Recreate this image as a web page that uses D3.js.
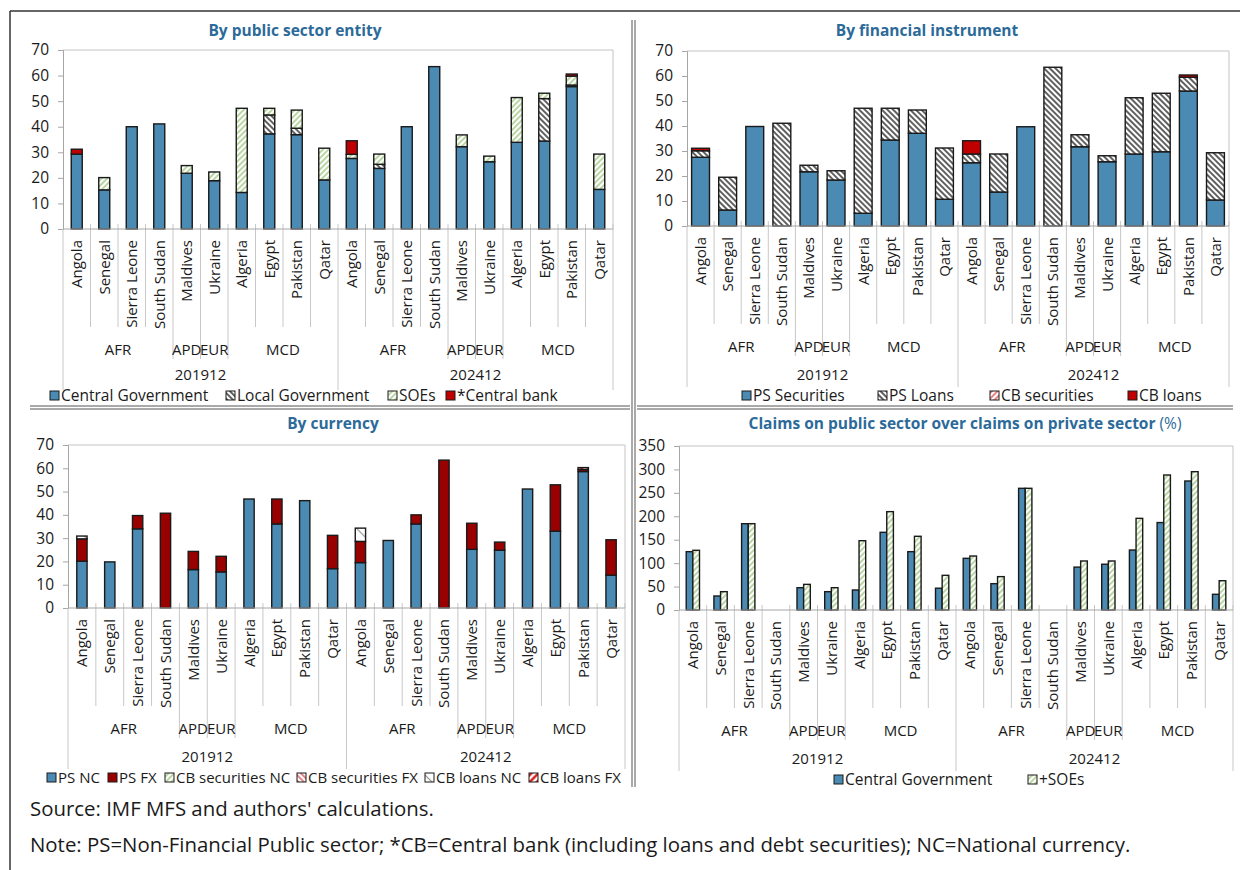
<!DOCTYPE html>
<html>
<head>
<meta charset="utf-8">
<script src="https://cdn.jsdelivr.net/npm/d3@7"></script>
<style>
  body { margin: 0; background: #fff; }
  svg text { font-family: "Open Sans", "Noto Sans", sans-serif; fill: #1a1a1a; }
</style>
</head>
<body>
<svg id="fig" width="1240" height="870"></svg>
<script>
// ---- categories ----
const countries = ["Angola", "Senegal", "Sierra Leone", "South Sudan", "Maldives",
                   "Ukraine", "Algeria", "Egypt", "Pakistan", "Qatar"];
const regions = [["AFR", 4], ["APD", 1], ["EUR", 1], ["MCD", 4]];
const periods = ["201912", "202412"];

// ---- by public sector entity (201912 then 202412) ----
const centralGov  = [29.3, 15.3, 40.0, 41.1, 21.8, 18.9, 14.3, 37.2, 36.9, 19.2,
                     27.6, 23.7, 40.0, 63.5, 32.2, 26.3, 33.9, 34.4, 55.7, 15.5];
const localGov    = [0, 0, 0, 0, 0, 0, 0, 7.4, 2.5, 0,
                     0, 1.6, 0, 0, 0, 0, 0, 16.6, 0.6, 0];
const soes        = [0, 4.8, 0, 0, 3.0, 3.4, 32.9, 2.6, 7.1, 12.4,
                     1.6, 4.0, 0, 0, 4.6, 2.2, 17.5, 2.1, 3.5, 13.8];
const centralBank = [1.9, 0, 0, 0, 0, 0, 0, 0, 0, 0,
                     5.3, 0, 0, 0, 0, 0, 0, 0, 0.8, 0];

// ---- by financial instrument ----
const psSecurities = [27.5, 6.4, 39.8, 0, 21.7, 18.4, 5.1, 34.4, 37.1, 10.7,
                      25.3, 13.6, 39.7, 0, 31.7, 25.7, 28.8, 29.7, 54.0, 10.4];
const psLoans      = [2.6, 13.1, 0, 41.1, 2.6, 3.7, 42.0, 12.7, 9.3, 20.5,
                      3.5, 15.2, 0, 63.5, 4.8, 2.4, 22.5, 23.4, 5.5, 18.9];
const cbSecurities = [0, 0, 0, 0, 0, 0, 0, 0, 0, 0,
                      0, 0, 0, 0, 0, 0, 0, 0, 0, 0];
const cbLoans      = [1.0, 0, 0, 0, 0, 0, 0, 0, 0, 0,
                      5.3, 0, 0, 0, 0, 0, 0, 0, 0.9, 0];

// ---- by currency ----
const psNC      = [20.1, 19.8, 34.0, 0, 16.5, 15.5, 46.8, 36.1, 46.1, 16.9,
                   19.5, 29.0, 36.1, 0, 25.2, 24.8, 51.1, 33.0, 58.6, 14.1];
const psFX      = [9.6, 0, 5.7, 40.7, 7.8, 6.7, 0, 10.7, 0, 14.3,
                   9.1, 0, 3.9, 63.5, 11.2, 3.5, 0, 19.9, 0.9, 15.2];
const cbSecNC   = [0, 0, 0, 0, 0, 0, 0, 0, 0, 0,
                   0, 0, 0, 0, 0, 0, 0, 0, 0, 0];
const cbSecFX   = [0, 0, 0, 0, 0, 0, 0, 0, 0, 0,
                   0, 0, 0, 0, 0, 0, 0, 0, 0, 0];
const cbLoansNC = [1.2, 0, 0, 0, 0, 0, 0, 0, 0, 0,
                   5.7, 0, 0, 0, 0, 0, 0, 0, 0, 0];
const cbLoansFX = [0, 0, 0, 0, 0, 0, 0, 0, 0, 0,
                   0, 0, 0, 0, 0, 0, 0, 0, 0.8, 0];

// ---- claims on public sector over claims on private sector (%) ----
const ratioCG   = [124.5, 29.9, 184.2, null, 47.6, 39.1, 42.7, 165.8, 124.5, 46.5,
                   110.3, 56.2, 259.7, null, 91.5, 97.7, 128.0, 186.6, 275.3, 33.5];
const ratioSOEs = [127.4, 39.1, 184.2, null, 54.7, 47.6, 147.9, 209.9, 157.3, 74.0,
                   115.2, 71.2, 259.7, null, 104.6, 104.6, 195.6, 288.1, 295.2, 62.5];

const sourceText = "Source: IMF MFS and authors' calculations.";
const noteText = "Note: PS=Non-Financial Public sector; *CB=Central bank (including loans and debt securities); NC=National currency.";

// ---- drawing ----
const svg = d3.select("#fig");
const defs = svg.append("defs");

function hatch(id, color, angle, spacing, width) {
  const p = defs.append("pattern").attr("id", id)
    .attr("patternUnits", "userSpaceOnUse")
    .attr("width", spacing).attr("height", spacing)
    .attr("patternTransform", `rotate(${angle})`);
  p.append("rect").attr("width", spacing).attr("height", spacing).attr("fill", "#fff");
  p.append("line").attr("x1", spacing / 2).attr("x2", spacing / 2)
    .attr("y1", 0).attr("y2", spacing)
    .attr("stroke", color).attr("stroke-width", width);
}
hatch("darkDiag", "#2a2a2a", -45, 4, 1.5);
hatch("greenDiag", "#9cc57c", 45, 4, 1.4);
hatch("redDiag", "#e06666", 45, 4, 1.6);
hatch("redDiagB", "#e06666", -45, 4, 1.6);
hatch("greyWide", "#9a9a9a", -45, 9, 1.2);
hatch("redWide", "#d00000", 45, 5, 2.2);

const blue = "#4a8ab3";
const red = "#c00000";
const darkRed = "#990000";
const titleColor = "#2c6a99";

const catKeys = [];
periods.forEach(p => countries.forEach(c => catKeys.push(p + "|" + c)));

const panels = [
  {
    title: [["By public sector entity", 700]], titleX: 295, titleY: 36,
    left: 63, right: 613, top: 50, zero: 229, max: 70, step: 10,
    mode: "stack", barFrac: 0.4, yearDy: 151,
    legendY: 401, legendFont: 15.5, legendX: [50, 226, 388, 446],
    series: [
      { name: "Central Government", values: centralGov, fill: blue },
      { name: "Local Government", values: localGov, fill: "url(#darkDiag)" },
      { name: "SOEs", values: soes, fill: "url(#greenDiag)" },
      { name: "*Central bank", values: centralBank, fill: red }
    ]
  },
  {
    title: [["By financial instrument", 700]], titleX: 927, titleY: 36,
    left: 687, right: 1229, top: 51, zero: 226, max: 70, step: 10,
    mode: "stack", barFrac: 0.66, yearDy: 154,
    legendY: 401, legendFont: 15.5, legendX: [742, 878, 990, 1128],
    series: [
      { name: "PS Securities", values: psSecurities, fill: blue },
      { name: "PS Loans", values: psLoans, fill: "url(#darkDiag)" },
      { name: "CB securities", values: cbSecurities, fill: "url(#redDiag)" },
      { name: "CB loans", values: cbLoans, fill: red }
    ]
  },
  {
    title: [["By currency", 700]], titleX: 333, titleY: 429,
    left: 68, right: 625, top: 445, zero: 608, max: 70, step: 10,
    mode: "stack", barFrac: 0.37, yearDy: 154,
    legendY: 783, legendFont: 15, legendX: [47, 108, 165, 297, 425, 529],
    series: [
      { name: "PS NC", values: psNC, fill: blue },
      { name: "PS FX", values: psFX, fill: darkRed },
      { name: "CB securities NC", values: cbSecNC, fill: "url(#greenDiag)" },
      { name: "CB securities FX", values: cbSecFX, fill: "url(#redDiagB)" },
      { name: "CB loans NC", values: cbLoansNC, fill: "url(#greyWide)" },
      { name: "CB loans FX", values: cbLoansFX, fill: "url(#redWide)" }
    ]
  },
  {
    title: [["Claims on public sector over claims on private sector", 700], [" (%)", 400]],
    titleX: 965, titleY: 429,
    left: 679, right: 1233, top: 446, zero: 610, max: 350, step: 50,
    mode: "group", barFrac: 0.24, yearDy: 154,
    legendY: 785, legendFont: 15.5, legendX: [834, 1028],
    series: [
      { name: "Central Government", values: ratioCG, fill: blue },
      { name: "+SOEs", values: ratioSOEs, fill: "url(#greenDiag)" }
    ]
  }
];

function drawPanel(cfg) {
  const g = svg.append("g");
  const x = d3.scaleBand().domain(catKeys).range([cfg.left, cfg.right]).padding(0);
  const y = d3.scaleLinear().domain([0, cfg.max]).range([cfg.zero, cfg.top]);
  const bw = x.bandwidth();

  // title
  const t = g.append("text").attr("x", cfg.titleX).attr("y", cfg.titleY)
    .attr("text-anchor", "middle").style("font-size", "15.5px");
  cfg.title.forEach(([s, w]) => t.append("tspan").text(s)
    .style("font-weight", w).style("fill", titleColor));

  // frame (top & right), value axis
  g.append("line").attr("x1", cfg.left).attr("x2", cfg.right)
    .attr("y1", cfg.top).attr("y2", cfg.top).attr("stroke", "#c4c4c4");
  g.append("line").attr("x1", cfg.right).attr("x2", cfg.right)
    .attr("y1", cfg.top).attr("y2", cfg.zero).attr("stroke", "#c4c4c4");

  const yAxis = d3.axisLeft(y).tickValues(d3.range(0, cfg.max + 1, cfg.step))
    .tickSize(5).tickPadding(9).tickFormat(d3.format("d"));
  const ya = g.append("g").attr("transform", `translate(${cfg.left},0)`).call(yAxis);
  ya.select(".domain").attr("stroke", "#a6a6a6");
  ya.selectAll(".tick line").attr("stroke", "#a6a6a6");
  ya.selectAll(".tick text").style("font-size", "15.5px").attr("fill", "#1a1a1a")
    .style("font-family", '"Open Sans", sans-serif');

  // category axis: multi-level separators
  const regionB = new Set();
  const yearB = new Set([catKeys.length]);
  periods.forEach((p, pi) => {
    let c = pi * countries.length;
    yearB.add(c);
    regions.forEach(r => { c += r[1]; regionB.add(c); });
  });
  for (let i = 0; i <= catKeys.length; i++) {
    const xx = cfg.left + i * bw;
    let y2 = cfg.zero + 98;
    if (regionB.has(i)) y2 = cfg.zero + 130;
    if (yearB.has(i)) y2 = cfg.zero + 161;
    g.append("line").attr("x1", xx).attr("x2", xx)
      .attr("y1", i === 0 ? cfg.zero : cfg.zero - 5).attr("y2", y2)
      .attr("stroke", "#c8c8c8");
  }

  // bars
  if (cfg.mode === "stack") {
    const rows = catKeys.map((k, i) => {
      const r = { key: k };
      cfg.series.forEach(s => { r[s.name] = s.values[i]; });
      return r;
    });
    const stacked = d3.stack().keys(cfg.series.map(s => s.name))(rows);
    const w = bw * cfg.barFrac;
    stacked.forEach((layer, li) => {
      g.append("g").selectAll("rect")
        .data(layer.filter(d => d[1] - d[0] > 0.01))
        .join("rect")
        .attr("x", d => x(d.data.key) + (bw - w) / 2)
        .attr("width", w)
        .attr("y", d => y(d[1]))
        .attr("height", d => y(d[0]) - y(d[1]))
        .attr("fill", cfg.series[li].fill)
        .attr("stroke", "#1a1a1a").attr("stroke-width", 1.4);
    });
  } else {
    const w = bw * cfg.barFrac;
    cfg.series.forEach((s, si) => {
      g.append("g").selectAll("rect")
        .data(catKeys.map((k, i) => ({ key: k, v: s.values[i] })).filter(d => d.v != null))
        .join("rect")
        .attr("x", d => x(d.key) + bw / 2 - w + si * w)
        .attr("width", w)
        .attr("y", d => y(d.v))
        .attr("height", d => y(0) - y(d.v))
        .attr("fill", s.fill)
        .attr("stroke", "#1a1a1a").attr("stroke-width", 1.4);
    });
  }

  // zero axis line
  g.append("line").attr("x1", cfg.left).attr("x2", cfg.right)
    .attr("y1", cfg.zero).attr("y2", cfg.zero).attr("stroke", "#a6a6a6");

  // country labels
  g.append("g").selectAll("text").data(catKeys).join("text")
    .attr("transform", d => `translate(${x(d) + bw / 2 + 5.5},${cfg.zero + 11}) rotate(-90)`)
    .attr("text-anchor", "end").style("font-size", "15px")
    .text(d => d.split("|")[1]);

  // region and period labels
  periods.forEach((p, pi) => {
    let c = pi * countries.length;
    regions.forEach(([name, n]) => {
      const cx = cfg.left + (c + n / 2) * bw;
      g.append("text").attr("x", cx).attr("y", cfg.zero + 126)
        .attr("text-anchor", "middle").style("font-size", "15px").text(name);
      c += n;
    });
    const px = cfg.left + (pi * countries.length + countries.length / 2) * bw;
    g.append("text").attr("x", px).attr("y", cfg.zero + cfg.yearDy)
      .attr("text-anchor", "middle").style("font-size", "15px").text(p);
  });

  // legend
  cfg.series.forEach((s, i) => {
    const lx = cfg.legendX[i];
    g.append("rect").attr("x", lx).attr("y", cfg.legendY - 10).attr("width", 9).attr("height", 9)
      .attr("fill", s.fill).attr("stroke", "#1a1a1a").attr("stroke-width", 1);
    g.append("text").attr("x", lx + 11).attr("y", cfg.legendY)
      .style("font-size", cfg.legendFont + "px").text(s.name);
  });
}

panels.forEach(drawPanel);

// figure borders
const border = svg.append("g").attr("stroke", "#333").attr("fill", "none");
border.append("line").attr("x1", 10).attr("x2", 1240).attr("y1", 11).attr("y2", 11).attr("stroke-width", 1.5);
border.append("line").attr("x1", 10).attr("x2", 10).attr("y1", 11).attr("y2", 870).attr("stroke-width", 1.5);
[632, 635].forEach(xx => border.append("line").attr("x1", xx).attr("x2", xx)
  .attr("y1", 20).attr("y2", 787).attr("stroke", "#555"));
[406, 409].forEach(yy => {
  border.append("line").attr("x1", 30).attr("x2", 630).attr("y1", yy).attr("y2", yy).attr("stroke", "#555");
  border.append("line").attr("x1", 637).attr("x2", 1233).attr("y1", yy).attr("y2", yy).attr("stroke", "#555");
});

// source and note
svg.append("text").attr("x", 30).attr("y", 816).style("font-size", "20.4px").text(sourceText);
svg.append("text").attr("x", 30).attr("y", 852).style("font-size", "20.4px").text(noteText);
</script>
</body>
</html>
